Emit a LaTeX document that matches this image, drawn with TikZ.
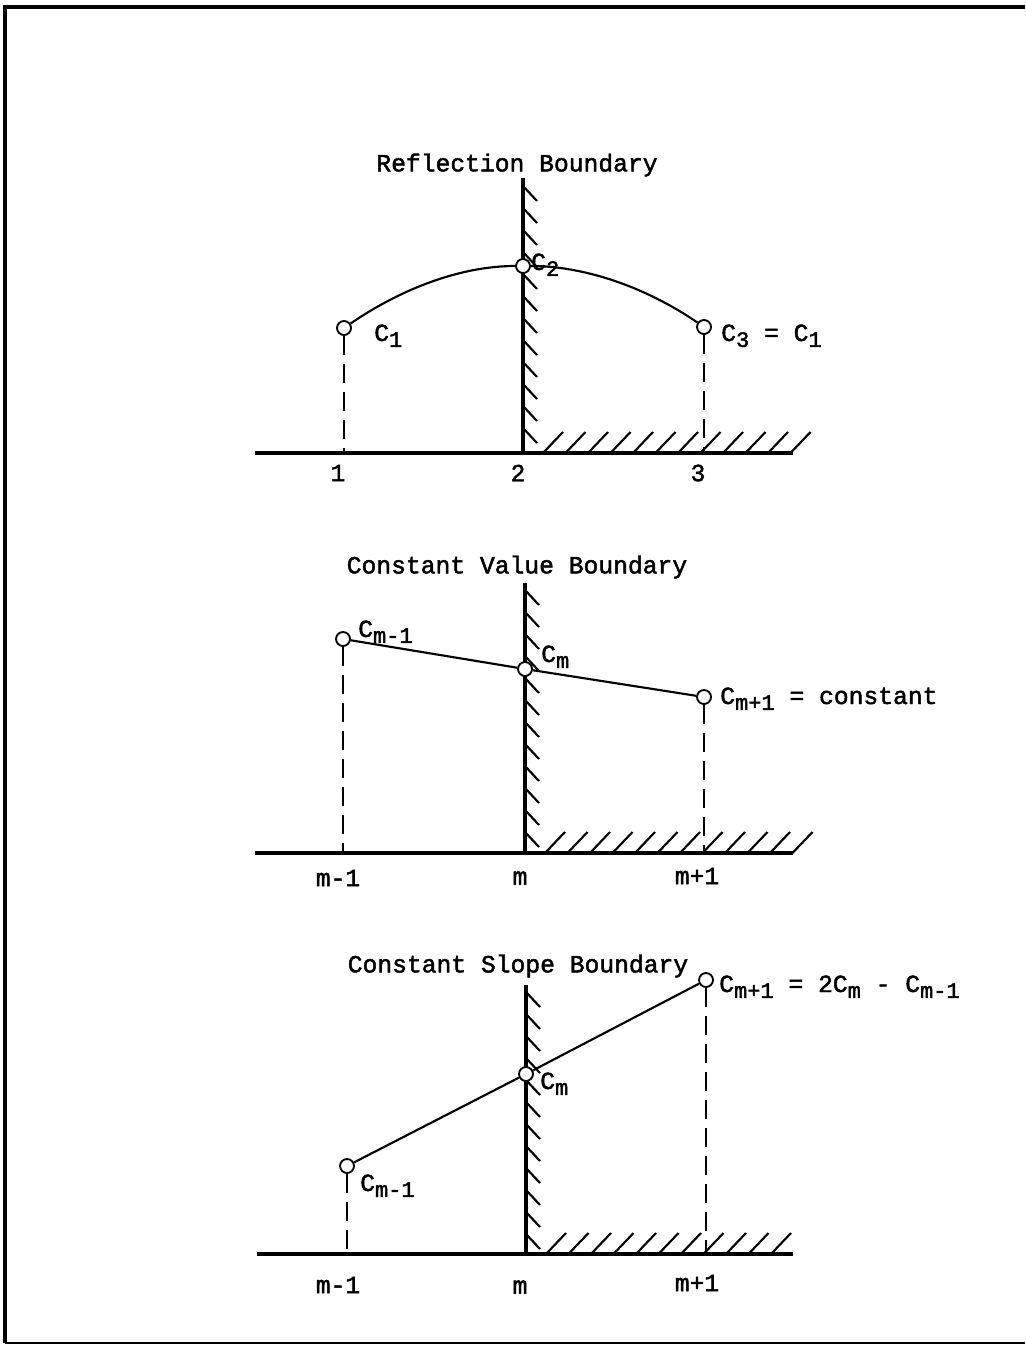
\documentclass[tikz,border=0pt]{standalone}
\usepackage{fontspec}
\newfontfamily\tw{Liberation Mono}[FakeBold=1.8]
\usetikzlibrary{positioning}
\newcommand{\lo}[1]{\raisebox{-0.45ex}{\fontsize{16.5}{17}\selectfont #1}}

\begin{document}
\begin{tikzpicture}[
  x=0.75pt, y=-0.75pt,
  frame/.style={line width=2.8pt},
  wall/.style={line width=3.2pt},
  base/.style={line width=2.5pt},
  hatch/.style={line width=1.6pt},
  curve/.style={line width=1.6pt},
  drop/.style={line width=1.5pt, dash pattern=on 14pt off 7pt},
  pt/.style={circle, draw, fill=white, line width=1.4pt, inner sep=0pt, minimum size=10.5pt},
  lbl/.style={font=\tw\fontsize{18.5}{20}\selectfont, inner sep=0pt},
  lblw/.style={lbl, anchor=base west}
]
\useasboundingbox (0,0) rectangle (1025,1346);
\draw[frame] (5,1343) -- (5,7) -- (1025,7);
\draw[line width=1.8pt] (5,1343) -- (1025,1343);

% reflection boundary
\node[lbl] (t1) at (517,165) {Reflection Boundary};
\coordinate (w1top) at (523,178); \coordinate (w1bot) at (523,453);
\coordinate (a1l) at (255,453); \coordinate (a1r) at (793,453);
\coordinate (x11) at (344,453); \coordinate (x13) at (704,453);
\draw[base] (a1l) -- (a1r);
\draw[wall] (w1top) -- (w1bot);
\foreach \y in {186,208,...,440} \draw[hatch] (523,\y) -- ++(14,15);
\foreach \x in {543,565.5,...,793} \draw[hatch] (\x,453) -- ++(20,-21);
\node[pt] (c11) at (344,328) {};
\node[pt] (c12) at (523,266) {};
\node[pt] (c13) at (704,327) {};
\draw[drop] (c11) -- (x11); \draw[drop] (c13) -- (x13);
\draw[curve] (c11) .. controls +(60,-41) and +(-60,0) .. (c12)
  .. controls +(60,0) and +(-60,-41) .. (c13);
\node[lblw] (l11) at (374,341) {C\lo{1}};
\node[lblw] (l12) at (531,270) {C\lo{2}};
\node[lblw] (l13) at (721,341) {C\lo{3} = C\lo{1}};
\node[lbl] (n11) at (338,473) {1};
\node[lbl] (n12) at (518,473) {2};
\node[lbl] (n13) at (698,473) {3};

% constant value boundary
\node[lbl] (t2) at (517,567) {Constant Value Boundary};
\coordinate (w2top) at (525,583); \coordinate (w2bot) at (525,853);
\coordinate (a2l) at (255,853); \coordinate (a2r) at (793,853);
\coordinate (x21) at (343,853); \coordinate (x23) at (704,853);
\draw[base] (a2l) -- (a2r);
\draw[wall] (w2top) -- (w2bot);
\foreach \y in {590,612,...,840} \draw[hatch] (525,\y) -- ++(14,15);
\foreach \x in {545,567.5,...,793} \draw[hatch] (\x,853) -- ++(20,-21);
\node[pt] (c21) at (343,639) {};
\node[pt] (c22) at (525,669) {};
\node[pt] (c23) at (704,697) {};
\draw[drop] (c21) -- (x21); \draw[drop] (c23) -- (x23);
\draw[curve] (c21) -- (c22) -- (c23);
\node[lblw] (l21) at (358,637) {C\lo{m-1}};
\node[lblw] (l22) at (541,662) {C\lo{m}};
\node[lblw] (l23) at (720,704) {C\lo{m+1} = constant};
\node[lbl] (n21) at (338,878) {m-1};
\node[lbl] (n22) at (520,878) {m};
\node[lbl] (n23) at (697,876) {m+1};

% constant slope boundary
\node[lbl] (t3) at (518,966) {Constant Slope Boundary};
\coordinate (w3top) at (526,985); \coordinate (w3bot) at (526,1254);
\coordinate (a3l) at (257,1254); \coordinate (a3r) at (793,1254);
\coordinate (x31) at (347,1254); \coordinate (x33) at (706,1254);
\draw[base] (a3l) -- (a3r);
\draw[wall] (w3top) -- (w3bot);
\foreach \y in {992,1014,...,1241} \draw[hatch] (526,\y) -- ++(14,15);
\foreach \x in {546,568.5,...,793} \draw[hatch] (\x,1254) -- ++(20,-21);
\node[pt] (c31) at (347,1166) {};
\node[pt] (c32) at (526,1074) {};
\node[pt] (c33) at (706,980) {};
\draw[drop] (c31) -- (x31); \draw[drop] (c33) -- (x33);
\draw[curve] (c31) -- (c32) -- (c33);
\node[lblw] (l31) at (360,1191) {C\lo{m-1}};
\node[lblw] (l32) at (540,1089) {C\lo{m}};
\node[lblw] (l33) at (719,992) {C\lo{m+1} = 2C\lo{m} - C\lo{m-1}};
\node[lbl] (n31) at (338,1285) {m-1};
\node[lbl] (n32) at (520,1287) {m};
\node[lbl] (n33) at (697,1283) {m+1};
\end{tikzpicture}
\end{document}
